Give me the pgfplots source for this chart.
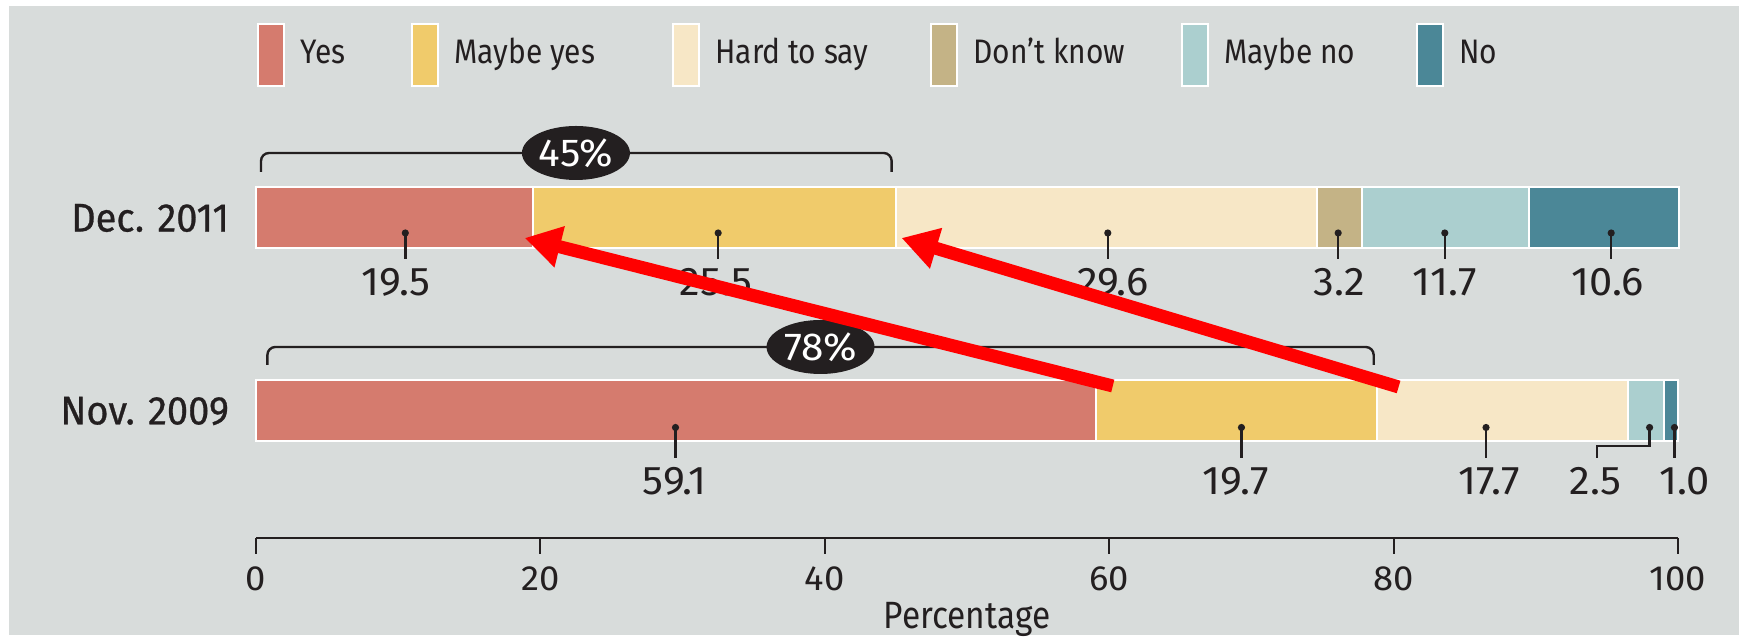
\documentclass[border=0pt]{standalone}
\usepackage{pgfplots}
\pgfplotsset{compat=1.18}
\usepackage{fontspec}
\setmainfont{Fira Sans}[FakeStretch=0.88]
\newfontfamily\numfont{Fira Sans}[FakeStretch=1.04]
\newfontfamily\rowfont{Fira Sans}[FakeStretch=0.95, FakeBold=0.7]
\usetikzlibrary{arrows.meta,shapes.geometric}

\definecolor{cyes}{HTML}{D57B6E}
\definecolor{cmyes}{HTML}{F0CB6B}
\definecolor{chard}{HTML}{F7E7C6}
\definecolor{cdk}{HTML}{C4B386}
\definecolor{cmno}{HTML}{ABCFCF}
\definecolor{cno}{HTML}{4B8797}
\definecolor{bg}{HTML}{D8DCDB}
\definecolor{ink}{HTML}{231F20}
\definecolor{arrowred}{HTML}{FF0000}

\tikzset{
  pinline/.style={draw=ink, line width=1.2pt},
  pindot/.style={fill=ink},
  vlab/.style={font=\numfont\fontsize{20}{24}\selectfont, text=ink, inner sep=0pt},
  pct/.style={ellipse, fill=ink, text=white, inner sep=0pt, minimum width=54pt, minimum height=27pt, font=\numfont\fontsize{19.5}{22}\selectfont},
}

\begin{document}
\begin{tikzpicture}
\fill[white] (0,0) rectangle (877pt,320pt);
\fill[bg] (4.5pt,2.5pt) rectangle (869.5pt,317pt);
\begin{axis}[
  at={(128pt,51pt)}, anchor=south west,
  scale only axis, width=711pt, height=269pt,
  xmin=0, xmax=100, ymin=102, ymax=640,
  xbar stacked, bar width=61,
  axis y line=none, axis x line*=bottom,
  axis line style={ink, line width=1pt},
  xtick={0,20,40,60,80,100},
  tick align=outside, major tick length=8pt,
  xtick style={ink, line width=1pt},
  ytick=\empty,
  clip=false,
  /pgf/number format/assume math mode=true,
  xticklabel style={font=\numfont\fontsize{17.5}{20}\selectfont, text=ink, yshift=-3pt},
  xlabel={Percentage},
  xlabel style={font=\fontsize{19}{22}\selectfont, text=ink, yshift=1.5pt},
  legend columns=6,
  legend style={at={(axis cs:0.1,617)}, anchor=north west, draw=none, fill=none,
    inner sep=0pt, outer sep=0pt, font=\fontsize{17}{20}\selectfont, text=ink,
    cells={anchor=base west}, nodes={inner sep=0pt},
    /tikz/every odd column/.append style={column sep=7.5pt}},
  every axis plot post/.append style={draw=white, line width=1pt,
    legend image code/.code={\draw[##1, draw=white, line width=1pt] (0pt,-11pt) rectangle (13pt,20pt);}},
]
\addplot[fill=cyes]  coordinates {(19.5,422) (59.1,229)};
\addlegendentry{\makebox[55.5pt][l]{Yes}}
\addplot[fill=cmyes] coordinates {(25.5,422) (19.7,229)};
\addlegendentry{\makebox[109pt][l]{Maybe yes}}
\addplot[fill=chard] coordinates {(29.6,422) (17.7,229)};
\addlegendentry{\makebox[107.5pt][l]{Hard to say}}
\addplot[fill=cdk]   coordinates {(3.2,422) (0,229)};
\addlegendentry{\makebox[104pt][l]{Don’t know}}
\addplot[fill=cmno]  coordinates {(11.7,422) (2.5,229)};
\addlegendentry{\makebox[96pt][l]{Maybe no}}
\addplot[fill=cno]   coordinates {(10.6,422) (1.0,229)};
\addlegendentry{No}

% row labels
\node[anchor=east, font=\rowfont\fontsize{20}{24}\selectfont, text=ink, xshift=-10pt] at (axis cs:0,422) {Dec. 2011};
\node[anchor=east, font=\rowfont\fontsize{20}{24}\selectfont, text=ink, xshift=-10pt] at (axis cs:0,229) {Nov. 2009};

% value labels
\node[vlab] at (axis cs:9.85,358) {19.5};
\node[vlab] at (axis cs:32.35,358) {25.5};
\node[vlab] at (axis cs:60.25,358) {29.6};
\node[vlab] at (axis cs:76.2,358) {3.2};
\node[vlab] at (axis cs:83.6,358) {11.7};
\node[vlab] at (axis cs:95.05,358) {10.6};
\node[vlab] at (axis cs:29.45,159) {59.1};
\node[vlab] at (axis cs:68.9,159) {19.7};
\node[vlab] at (axis cs:86.7,159) {17.7};
\node[vlab] at (axis cs:94.2,159) {2.5};
\node[vlab] at (axis cs:100.45,159) {1.0};

% pin anchors (dot / end)
\coordinate (a1) at (axis cs:10.5,407);  \coordinate (a1e) at (axis cs:10.5,381);
\coordinate (a2) at (axis cs:32.5,407);  \coordinate (a2e) at (axis cs:32.5,381);
\coordinate (a3) at (axis cs:59.9,407);  \coordinate (a3e) at (axis cs:59.9,381);
\coordinate (a4) at (axis cs:76.1,407);  \coordinate (a4e) at (axis cs:76.1,381);
\coordinate (a5) at (axis cs:83.6,407);  \coordinate (a5e) at (axis cs:83.6,381);
\coordinate (a6) at (axis cs:95.3,407);  \coordinate (a6e) at (axis cs:95.3,381);
\coordinate (b1) at (axis cs:29.5,212.5); \coordinate (b1e) at (axis cs:29.5,182);
\coordinate (b2) at (axis cs:69.3,212.5); \coordinate (b2e) at (axis cs:69.3,182);
\coordinate (b3) at (axis cs:86.5,212.5); \coordinate (b3e) at (axis cs:86.5,182);
\coordinate (b4) at (axis cs:99.75,212.5); \coordinate (b4e) at (axis cs:99.75,182);
\coordinate (b5) at (axis cs:98.0,212.5); \coordinate (b5m) at (axis cs:98.0,194);
\coordinate (b5n) at (axis cs:94.3,194); \coordinate (b5e) at (axis cs:94.3,182);
% brackets
\coordinate (k1) at (axis cs:0.35,468); \coordinate (k2) at (axis cs:0.35,487);
\coordinate (k3) at (axis cs:44.7,487); \coordinate (k4) at (axis cs:44.7,468);
\coordinate (m1) at (axis cs:0.8,275);  \coordinate (m2) at (axis cs:0.8,293);
\coordinate (m3) at (axis cs:78.6,293); \coordinate (m4) at (axis cs:78.6,275);
\coordinate (e1) at (axis cs:22.5,487); \coordinate (e2) at (axis cs:39.7,293);
% arrows
\coordinate (r1s) at (axis cs:60.25,254); \coordinate (r1e) at (axis cs:18.9,402);
\coordinate (r2s) at (axis cs:80.35,253); \coordinate (r2e) at (axis cs:45.4,402);
\end{axis}

% overlay drawn after the axis, in order
\foreach \p in {a1,a2,a3,a4,a5,a6,b1,b2,b3,b4} {
  \draw[pinline] (\p) -- (\p e);
  \fill[pindot] (\p) circle (1.8pt);
}
\draw[pinline] (b5) -- (b5m) -- (b5n) -- (b5e);
\fill[pindot] (b5) circle (1.8pt);

\draw[ink, line width=1.2pt, rounded corners=4pt] (k1) -- (k2) -- (k3) -- (k4);
\draw[ink, line width=1.2pt, rounded corners=4pt] (m1) -- (m2) -- (m3) -- (m4);
\node[pct] at (e1) {45\%};
\node[pct] at (e2) {78\%};

\draw[arrowred, line width=6.5pt, -{Triangle[length=18pt, width=20pt]}] (r1s) -- (r1e);
\draw[arrowred, line width=6.5pt, -{Triangle[length=18pt, width=20pt]}] (r2s) -- (r2e);

\pgfresetboundingbox
\path[use as bounding box] (0,0) rectangle (877pt,320pt);
\end{tikzpicture}
\end{document}
